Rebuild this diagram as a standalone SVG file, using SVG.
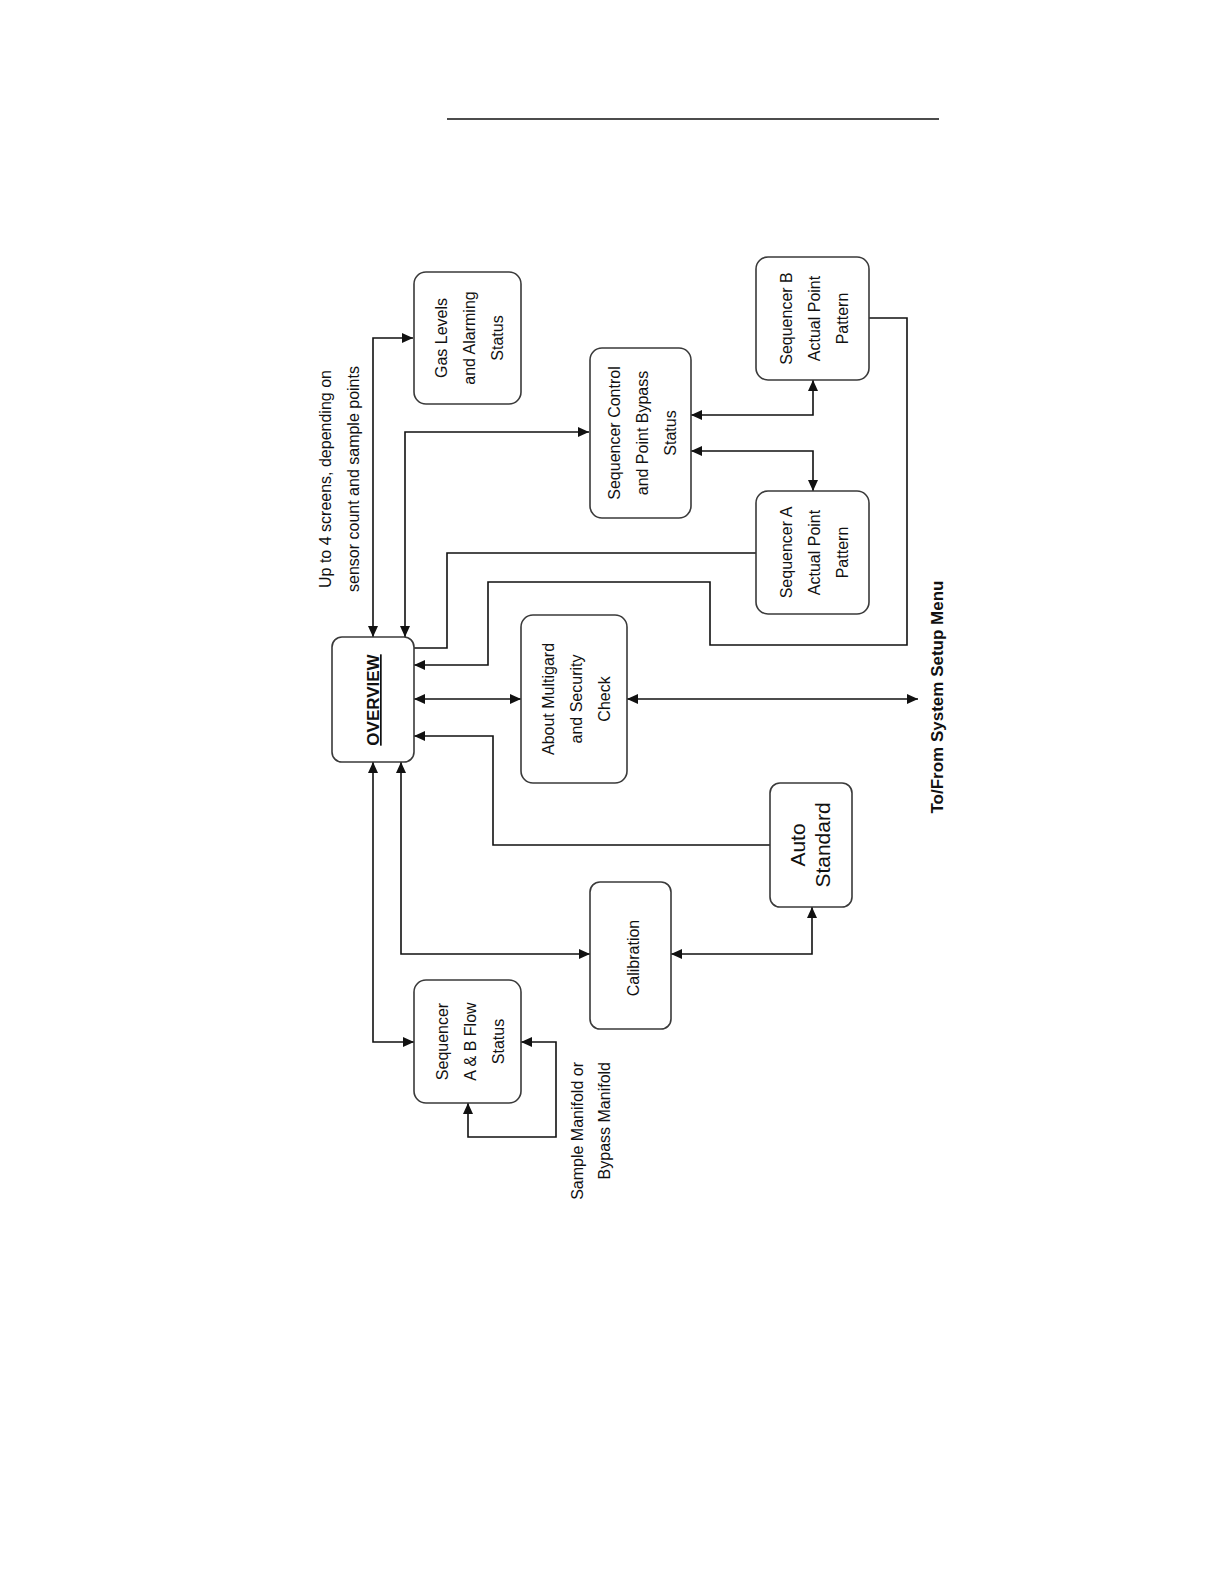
<svg xmlns="http://www.w3.org/2000/svg" width="1224" height="1584" viewBox="0 0 1224 1584">
<style>
.box{fill:#fff;stroke:#3a3a3a;stroke-width:1.6}
.t{font-family:"Liberation Sans",Arial,sans-serif;font-size:16px;fill:#111;text-anchor:middle}
.big{font-size:21px}
.b{font-weight:bold;font-size:17px}
.u{text-decoration:underline}
.end{text-anchor:end}
.c{fill:none;stroke:#111;stroke-width:1.6}
</style>
<defs>
<marker id="ah" markerUnits="userSpaceOnUse" markerWidth="11" markerHeight="10" refX="11" refY="5" orient="auto-start-reverse" viewBox="0 0 11 10">
<path d="M0,0 L11,5 L0,10 z" fill="#111"/>
</marker>
</defs>
<rect width="1224" height="1584" fill="#fff"/>
<line x1="447" y1="119" x2="939" y2="119" stroke="#111" stroke-width="1.6"/>

<g id="connectors">
<path class="c" d="M373,637 V338 H413" marker-start="url(#ah)" marker-end="url(#ah)"/>
<path class="c" d="M405,637 V432 H589" marker-start="url(#ah)" marker-end="url(#ah)"/>
<path class="c" d="M756,553 H447 V648 H403" marker-end="url(#ah)"/>
<path class="c" d="M869,318 H907 V645 H710 V582 H488 V665 H414" marker-end="url(#ah)"/>
<path class="c" d="M414,699 H521" marker-start="url(#ah)" marker-end="url(#ah)"/>
<path class="c" d="M627,699 H918" marker-start="url(#ah)" marker-end="url(#ah)"/>
<path class="c" d="M770,845 H493 V736 H414" marker-end="url(#ah)"/>
<path class="c" d="M401,762 V954 H590" marker-start="url(#ah)" marker-end="url(#ah)"/>
<path class="c" d="M373,762 V1042 H414" marker-start="url(#ah)" marker-end="url(#ah)"/>
<path class="c" d="M521,1042 H556 V1137 H468 V1103" marker-start="url(#ah)" marker-end="url(#ah)"/>
<path class="c" d="M671,954 H812 V907" marker-start="url(#ah)" marker-end="url(#ah)"/>
<path class="c" d="M691,415 H813 V380" marker-start="url(#ah)" marker-end="url(#ah)"/>
<path class="c" d="M691,451 H813 V491" marker-start="url(#ah)" marker-end="url(#ah)"/>
</g>

<g id="overview">
<rect class="box" x="332" y="637" width="82" height="125" rx="10"/>
<text class="t b u" transform="translate(379,700) rotate(-90)">OVERVIEW</text>
</g>

<g id="gas-levels">
<rect class="box" x="414" y="272" width="107" height="132" rx="12"/>
<g transform="translate(467.5,338) rotate(-90)">
<text class="t" x="0" y="-21">Gas Levels</text>
<text class="t" x="0" y="7">and Alarming</text>
<text class="t" x="0" y="35">Status</text>
</g>
</g>

<g id="sequencer-control">
<rect class="box" x="590" y="348" width="101" height="170" rx="12"/>
<g transform="translate(640.5,433) rotate(-90)">
<text class="t" x="0" y="-21">Sequencer Control</text>
<text class="t" x="0" y="7">and Point Bypass</text>
<text class="t" x="0" y="35">Status</text>
</g>
</g>

<g id="sequencer-b">
<rect class="box" x="756" y="257" width="113" height="123" rx="12"/>
<g transform="translate(813,318.5) rotate(-90)">
<text class="t" x="0" y="-21">Sequencer B</text>
<text class="t" x="0" y="7">Actual Point</text>
<text class="t" x="0" y="35">Pattern</text>
</g>
</g>

<g id="sequencer-a">
<rect class="box" x="756" y="491" width="113" height="123" rx="12"/>
<g transform="translate(813,552.5) rotate(-90)">
<text class="t" x="0" y="-21">Sequencer A</text>
<text class="t" x="0" y="7">Actual Point</text>
<text class="t" x="0" y="35">Pattern</text>
</g>
</g>

<g id="about">
<rect class="box" x="521" y="615" width="106" height="168" rx="12"/>
<g transform="translate(576,699) rotate(-90)">
<text class="t" x="0" y="-22">About Multigard</text>
<text class="t" x="0" y="6">and Security</text>
<text class="t" x="0" y="34">Check</text>
</g>
</g>

<g id="auto-standard">
<rect class="box" x="770" y="783" width="82" height="124" rx="10"/>
<g transform="translate(811,845) rotate(-90)">
<text class="t big" x="0" y="-6">Auto</text>
<text class="t big" x="0" y="19">Standard</text>
</g>
</g>

<g id="calibration">
<rect class="box" x="590" y="882" width="81" height="147" rx="10"/>
<text class="t" transform="translate(630.5,958) rotate(-90)" y="8">Calibration</text>
</g>

<g id="flow-status">
<rect class="box" x="414" y="980" width="107" height="123" rx="12"/>
<g transform="translate(469,1041.5) rotate(-90)">
<text class="t" x="0" y="-21">Sequencer</text>
<text class="t" x="0" y="7">A &amp; B Flow</text>
<text class="t" x="0" y="35">Status</text>
</g>
</g>

<g id="labels">
<g transform="translate(339,479) rotate(-90)">
<text class="t" x="0" y="-8">Up to 4 screens, depending on</text>
<text class="t" x="0" y="20">sensor count and sample points</text>
</g>
<g transform="translate(591,1062) rotate(-90)">
<text class="t end" x="0" y="-8">Sample Manifold or</text>
<text class="t end" x="0" y="19">Bypass Manifold</text>
</g>
<text class="t b" transform="translate(943,697) rotate(-90)">To/From System Setup Menu</text>
</g>
</svg>
